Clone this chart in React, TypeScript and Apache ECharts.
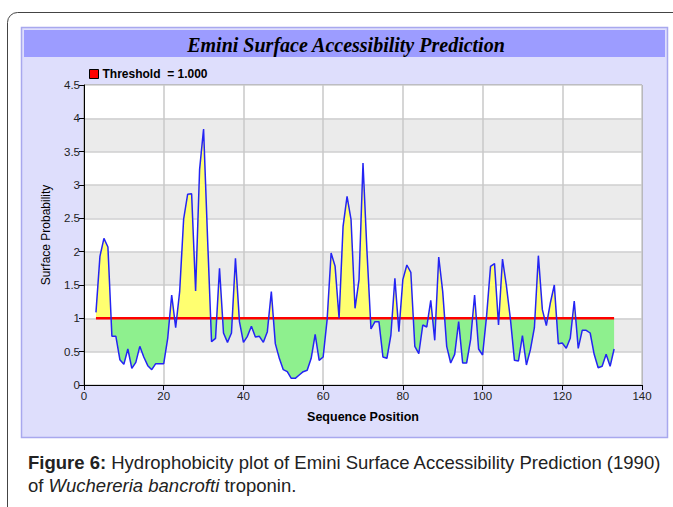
import React, { useEffect, useRef } from "react";
import * as echarts from "echarts";

const startPosition = 3;
const surfaceValues = [
  1.09, 1.93, 2.2, 2.07, 0.73, 0.73, 0.38, 0.31, 0.54, 0.25,
  0.34, 0.58, 0.42, 0.29, 0.23, 0.32, 0.32, 0.32, 0.7, 1.35,
  0.86, 1.4, 2.49, 2.86, 2.87, 1.41, 3.23, 3.84, 2.2, 0.65,
  0.7, 1.75, 0.78, 0.64, 0.78, 1.9, 0.95, 0.64, 0.73, 0.88,
  0.72, 0.73, 0.64, 0.8, 1.4, 0.62, 0.4, 0.23, 0.2, 0.1,
  0.1, 0.15, 0.2, 0.22, 0.4, 0.76, 0.37, 0.42, 0.98, 1.98,
  1.78, 1.0, 2.38, 2.83, 2.48, 1.15, 1.58, 3.33, 2.0, 0.84,
  0.95, 0.95, 0.42, 0.4, 0.75, 1.6, 0.8, 1.58, 1.8, 1.69,
  0.58, 0.47, 0.9, 0.87, 1.27, 0.67, 1.92, 1.4, 0.58, 0.33,
  0.46, 0.95, 0.33, 0.33, 0.68, 1.35, 0.54, 0.45, 1.03, 1.78,
  1.82, 0.9, 1.89, 1.48, 0.98, 0.37, 0.36, 0.74, 0.3, 0.53,
  0.86, 1.94, 1.13, 0.89, 1.23, 1.5, 0.62, 0.63, 0.55, 0.7,
  1.26, 0.55, 0.82, 0.82, 0.78, 0.46, 0.26, 0.28, 0.46, 0.28,
  0.54,
];
const threshold = 1.0;
const thresholdLabel = "Threshold  = 1.000";
const xTicks = [0, 20, 40, 60, 80, 100, 120, 140];
const yTicks = [0, 0.5, 1, 1.5, 2, 2.5, 3, 3.5, 4, 4.5];
const titleText = "Emini Surface Accessibility Prediction";
const xName = "Sequence Position";
const yName = "Surface Probability";

const aboveColor = "#FFFF70";
const belowColor = "#8EF08E";

export default function App() {
  const ref = useRef<HTMLDivElement>(null);
  useEffect(() => {
    if (!ref.current) return;
    const chart = echarts.init(ref.current, null, { renderer: "svg" });
    const points = surfaceValues.map((v, i) => [startPosition + i, v]);
    const lastPos = startPosition + surfaceValues.length - 1;
    const font = "Arial, 'Liberation Sans', sans-serif";
    const yMax = yTicks[yTicks.length - 1];
    chart.setOption({
      animation: false,
      backgroundColor: "#ffffff",
      graphic: [
        {
          type: "rect",
          z: -10,
          silent: true,
          shape: { x: 7.5, y: 12.5, width: 720, height: 540, r: 10 },
          style: { fill: "#ffffff", stroke: "#444444", lineWidth: 1 },
        },
        {
          type: "rect",
          z: -9,
          silent: true,
          shape: { x: 21.5, y: 27.5, width: 646, height: 410 },
          style: { fill: "#DEDEFC", stroke: "#A8A8EE", lineWidth: 1.5 },
        },
        {
          type: "rect",
          z: -8,
          silent: true,
          shape: { x: 24, y: 30, width: 641, height: 27 },
          style: { fill: "#9C9CFF" },
        },
        {
          type: "text",
          z: 10,
          x: 346,
          y: 45,
          style: {
            text: titleText,
            fontFamily: "'Liberation Serif', 'Times New Roman', serif",
            fontStyle: "italic",
            fontWeight: "bold",
            fontSize: 20,
            fill: "#000000",
            align: "center",
            verticalAlign: "middle",
          },
        },
        {
          type: "text",
          z: 10,
          x: 28,
          y: 462,
          style: {
            text: "{b|Figure 6:} Hydrophobicity plot of Emini Surface Accessibility Prediction (1990)",
            fontFamily: font,
            fontSize: 18.5,
            fill: "#222222",
            verticalAlign: "middle",
            rich: {
              b: { fontWeight: "bold", fontFamily: font, fontSize: 18.5, fill: "#222222" },
            },
          },
        },
        {
          type: "text",
          z: 10,
          x: 28,
          y: 485,
          style: {
            text: "of {i|Wuchereria bancrofti} troponin.",
            fontFamily: font,
            fontSize: 18.5,
            fill: "#222222",
            verticalAlign: "middle",
            rich: {
              i: { fontStyle: "italic", fontFamily: font, fontSize: 18.5, fill: "#222222" },
            },
          },
        },
      ],
      legend: {
        left: 89,
        top: 68,
        padding: 0,
        itemWidth: 9,
        itemHeight: 9,
        itemGap: 5,
        textStyle: { fontFamily: font, fontSize: 12, fontWeight: "bold", color: "#000", padding: [0, 0, 0, -1] },
        data: [
          {
            name: thresholdLabel,
            icon: "rect",
            itemStyle: { color: "#ff0000", borderColor: "#000", borderWidth: 1 },
          },
        ],
      },
      grid: {
        left: 84,
        top: 85,
        right: 31,
        bottom: 122,
        show: true,
        borderColor: "#333333",
        borderWidth: 1,
        backgroundColor: "transparent",
      },
      xAxis: {
        type: "value",
        min: 0,
        max: 140,
        interval: 20,
        name: xName,
        nameLocation: "middle",
        nameGap: 25,
        nameTextStyle: { fontFamily: font, fontSize: 12.5, fontWeight: "bold", color: "#000" },
        axisLine: { show: true, lineStyle: { color: "#000", width: 1 } },
        axisTick: { show: true, length: 5, lineStyle: { color: "#000" } },
        axisLabel: {
          fontFamily: font,
          fontSize: 11.5,
          color: "#222",
          margin: 5,
          formatter: (v: number) => (xTicks.includes(v) ? String(v) : ""),
        },
        splitLine: { show: true, lineStyle: { color: "#C8C8C8", width: 1.5 } },
      },
      yAxis: {
        type: "value",
        min: 0,
        max: yMax,
        interval: 0.5,
        name: yName,
        nameLocation: "middle",
        nameGap: 32,
        nameTextStyle: { fontFamily: font, fontSize: 12, color: "#000" },
        axisLine: { show: true, lineStyle: { color: "#000", width: 1 } },
        axisTick: { show: true, length: 5, lineStyle: { color: "#000" } },
        axisLabel: {
          fontFamily: font,
          fontSize: 11.5,
          color: "#222",
          margin: 4,
          formatter: (v: number) => (yTicks.includes(v) ? String(v) : ""),
        },
        splitLine: { show: true, lineStyle: { color: "#CFCFCF", width: 1.5 } },
        splitArea: { show: true, areaStyle: { color: ["#ffffff", "#EBEBEB"] } },
      },
      series: [
        {
          type: "line",
          name: "area",
          data: points,
          symbol: "none",
          z: 2,
          silent: true,
          lineStyle: { width: 0, opacity: 0 },
          areaStyle: { origin: threshold, opacity: 1, color: belowColor },
        },
        {
          type: "line",
          name: thresholdLabel,
          data: [
            [startPosition, threshold],
            [lastPos, threshold],
          ],
          symbol: "none",
          z: 3,
          itemStyle: { color: "#ff0000" },
          lineStyle: { color: "#ff0000", width: 2.5 },
        },
        {
          type: "line",
          name: "Emini",
          data: points,
          symbol: "none",
          z: 4,
          itemStyle: { color: "#2424F4" },
          lineStyle: { color: "#2424F4", width: 1.5 },
        },
      ],
    });
    // Split the fill colour at the threshold level using the axis' own scale
    const topPx = chart.convertToPixel({ yAxisIndex: 0 }, yMax) as number;
    const botPx = chart.convertToPixel({ yAxisIndex: 0 }, 0) as number;
    const thrPx = chart.convertToPixel({ yAxisIndex: 0 }, threshold) as number;
    const f = (thrPx - topPx) / (botPx - topPx);
    const grad = new echarts.graphic.LinearGradient(
      0,
      topPx,
      0,
      botPx,
      [
        { offset: 0, color: aboveColor },
        { offset: f, color: aboveColor },
        { offset: f, color: belowColor },
        { offset: 1, color: belowColor },
      ],
      true
    );
    chart.setOption({
      series: [{ areaStyle: { origin: threshold, opacity: 1, color: grad } }],
    });
    return () => chart.dispose();
  }, []);
  return (
    <div
      ref={ref}
      style={{ position: "fixed", left: 0, top: 0, width: 673, height: 507 }}
    />
  );
}
